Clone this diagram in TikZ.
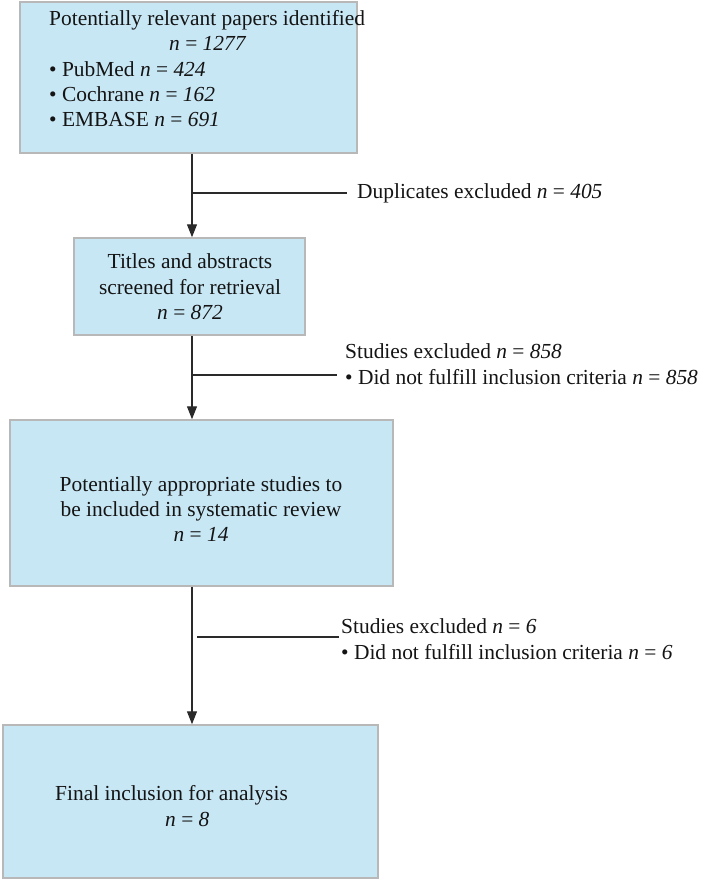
\documentclass[tikz,border=0pt]{standalone}
\usepackage{fontspec}
\setmainfont{Liberation Serif}
\usetikzlibrary{arrows.meta}
\definecolor{boxfill}{HTML}{C8E7F5}
\definecolor{boxline}{HTML}{B8B8B8}
\definecolor{lineclr}{HTML}{2A2A2A}
\definecolor{txtclr}{HTML}{141414}
\begin{document}
\begin{tikzpicture}[x=1bp,y=-1bp,
  box/.style={draw=boxline, fill=boxfill, line width=1.5bp, inner sep=0pt},
  txt/.style={font=\fontsize{21.5}{25.5}\selectfont, inner sep=0pt, text=txtclr},
  conn/.style={draw=lineclr, line width=1.3bp},
  arr/.style={conn, -{Triangle[length=13bp,width=10bp]}}]
\useasboundingbox (0,0) rectangle (718,880);
\fill[white] (0,0) rectangle (718,880);

% boxes
\node[box, minimum width=337bp, minimum height=151bp] (b1) at (188.5,77.5) {};
\node[box, minimum width=231bp, minimum height=97bp] (b2) at (189.5,286.5) {};
\node[box, minimum width=383bp, minimum height=166bp] (b3) at (201.5,503) {};
\node[box, minimum width=375bp, minimum height=153bp] (b4) at (190.5,801.5) {};

% box texts
\node[txt, align=left, anchor=north west] (t1) at (49,10)
  {Potentially relevant papers identified\\
   \hspace*{120bp}\textit{n} = \textit{1277}\\
   • PubMed \textit{n} = \textit{424}\\
   • Cochrane \textit{n} = \textit{162}\\
   • EMBASE \textit{n} = \textit{691}};
\node[txt, align=center] (t2) at (190,287)
  {Titles and abstracts\\ screened for retrieval\\ \textit{n} = \textit{872}};
\node[txt, align=center] (t3) at (201,509)
  {Potentially appropriate studies to\\ be included in systematic review\\ \textit{n} = \textit{14}};
\node[txt, align=left, anchor=west] (t4) at (55,806)
  {Final inclusion for analysis\\ \hspace*{110bp}\textit{n} = \textit{8}};

% vertical arrows
\coordinate (ax) at (192,0);
\draw[arr] (b1.south -| ax) -- (b2.north -| ax);
\draw[arr] (b2.south -| ax) -- (b3.north -| ax);
\draw[arr] (b3.south -| ax) -- (b4.north -| ax);

% exclusion branches
\coordinate (j1) at (192,193);
\coordinate (e1) at (347,193);
\draw[conn] (j1) -- (e1);
\node[txt, anchor=west] (l1) at (357,193) {Duplicates excluded \textit{n} = \textit{405}};

\coordinate (j2) at (192,375);
\coordinate (e2) at (337,375);
\draw[conn] (j2) -- (e2);
\node[txt, align=left, anchor=west] (l2) at (345,364)
  {Studies excluded \textit{n} = \textit{858}\\
   • Did not fulfill inclusion criteria \textit{n} = \textit{858}};

\coordinate (j3) at (197,637);
\coordinate (e3) at (339,637);
\draw[conn] (j3) -- (e3);
\node[txt, align=left, anchor=west] (l3) at (341,639)
  {Studies excluded \textit{n} = \textit{6}\\
   • Did not fulfill inclusion criteria \textit{n} = \textit{6}};
\end{tikzpicture}
\end{document}
